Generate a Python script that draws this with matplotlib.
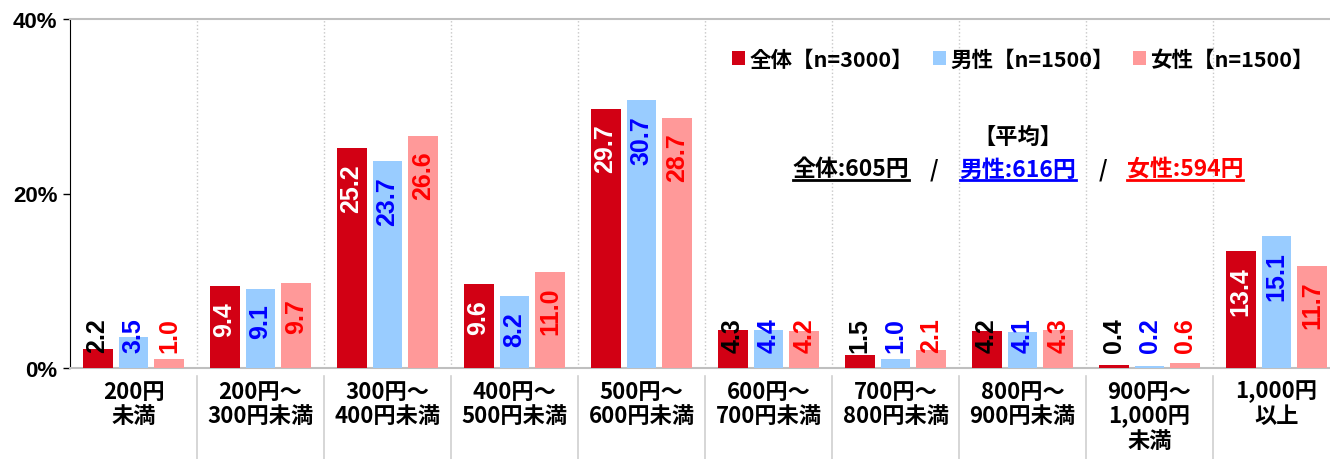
import numpy as np
import matplotlib
matplotlib.use('Agg')
import matplotlib.pyplot as plt
from matplotlib.patches import Patch
from matplotlib.lines import Line2D

plt.rcParams['font.family'] = ['Noto Sans CJK JP', 'DejaVu Sans']

categories = ['200円\n未満', '200円～\n300円未満', '300円～\n400円未満', '400円～\n500円未満',
              '500円～\n600円未満', '600円～\n700円未満', '700円～\n800円未満', '800円～\n900円未満',
              '900円～\n1,000円\n未満', '1,000円\n以上']
total = [2.2, 9.4, 25.2, 9.6, 29.7, 4.3, 1.5, 4.2, 0.4, 13.4]
male = [3.5, 9.1, 23.7, 8.2, 30.7, 4.4, 1.0, 4.1, 0.2, 15.1]
female = [1.0, 9.7, 26.6, 11.0, 28.7, 4.2, 2.1, 4.3, 0.6, 11.7]
series_names = ['全体【n=3000】', '男性【n=1500】', '女性【n=1500】']
avg_parts = ['全体:605円', '男性:616円', '女性:594円']

bar_colors = ['#D20014', '#99CCFF', '#FF9999']
label_colors = [None, '#0000FF', '#FF0000']
avg_colors = ['black', '#0000FF', '#FF0000']

W, H = 1330, 460
fig = plt.figure(figsize=(W / 100, H / 100), dpi=100)
ax = fig.add_axes([70 / W, 91 / H, 1270 / W, 349 / H])

x = np.arange(len(categories))
width = 0.236
step = 0.283
num_font = dict(family=['Liberation Sans', 'DejaVu Sans'], fontsize=18, fontweight='bold')

for i, vals in enumerate([total, male, female]):
    pos = x + (i - 1) * step
    ax.bar(pos, vals, width=width, color=bar_colors[i], zorder=3)
    for px, v in zip(pos, vals):
        inside = v >= 7.5
        if i == 0:
            col = 'white' if inside else 'black'
        else:
            col = label_colors[i]
        if inside:
            ax.text(px, v - 1.7, f'{v:.1f}', rotation=90, ha='center', va='top',
                    color=col, zorder=4, **num_font)
        else:
            ax.text(px, 1.85, f'{v:.1f}', rotation=90, ha='center', va='bottom',
                    color=col, zorder=4, **num_font)

ax.set_xlim(-0.5, 9.5)
ax.set_ylim(0, 40)
ax.set_yticks([0, 20, 40])
ax.set_yticklabels(['0%', '20%', '40%'], fontsize=16, fontweight='bold',
                   family=['Liberation Sans', 'DejaVu Sans'])
ax.tick_params(axis='y', length=5, width=1, color='black', pad=4)
ax.set_xticks([])

for s in ['top', 'bottom']:
    ax.spines[s].set_color('#BFBFBF')
    ax.spines[s].set_linewidth(1.5)
ax.spines['right'].set_visible(False)
ax.spines['left'].set_color('black')

# category separators
trans = ax.get_xaxis_transform()
for b in np.arange(0.5, 9.5, 1.0):
    ax.plot([b, b], [0, 1], transform=trans, color='#C8C8C8', lw=1, ls=':', zorder=1)
    ax.plot([b, b], [-0.023, -0.27], transform=trans, color='#D0D0D0', lw=1.2,
            clip_on=False, zorder=1)

# category labels
for xi, lab in zip(x, categories):
    ax.text(xi, -0.033, lab, transform=trans, ha='center', va='top', fontsize=16,
            fontweight='bold', linespacing=1.1)

# legend
handles = [Patch(facecolor=c, edgecolor='none') for c in bar_colors]
fig.legend(handles, series_names, loc='center', bbox_to_anchor=(1023 / W, 1 - 60 / H),
           ncol=3, frameon=False, handlelength=0.6, handleheight=0.6, handletextpad=0.2,
           columnspacing=0.9, prop=dict(size=15.5, weight='bold'))

# averages
fig.text(1018 / W, 1 - 137 / H, '【平均】', ha='center', va='center', fontsize=16,
         fontweight='bold')
avg_x = [851, 1018, 1185]
avg_texts = []
for xp, t, c in zip(avg_x, avg_parts, avg_colors):
    avg_texts.append(fig.text(xp / W, 1 - 170 / H, t, ha='center', va='center',
                              fontsize=16.5, fontweight='bold', color=c))
for xp in [934, 1103]:
    fig.text(xp / W, 1 - 170 / H, '/', ha='center', va='center', fontsize=16,
             fontweight='bold')

fig.canvas.draw()
for t, c in zip(avg_texts, avg_colors):
    bb = t.get_window_extent()
    fig.add_artist(Line2D([bb.x0 / W, bb.x1 / W], [(bb.y0 + 1) / H, (bb.y0 + 1) / H],
                          transform=fig.transFigure, color=c, lw=2))

fig.savefig('out.png', dpi=100)
